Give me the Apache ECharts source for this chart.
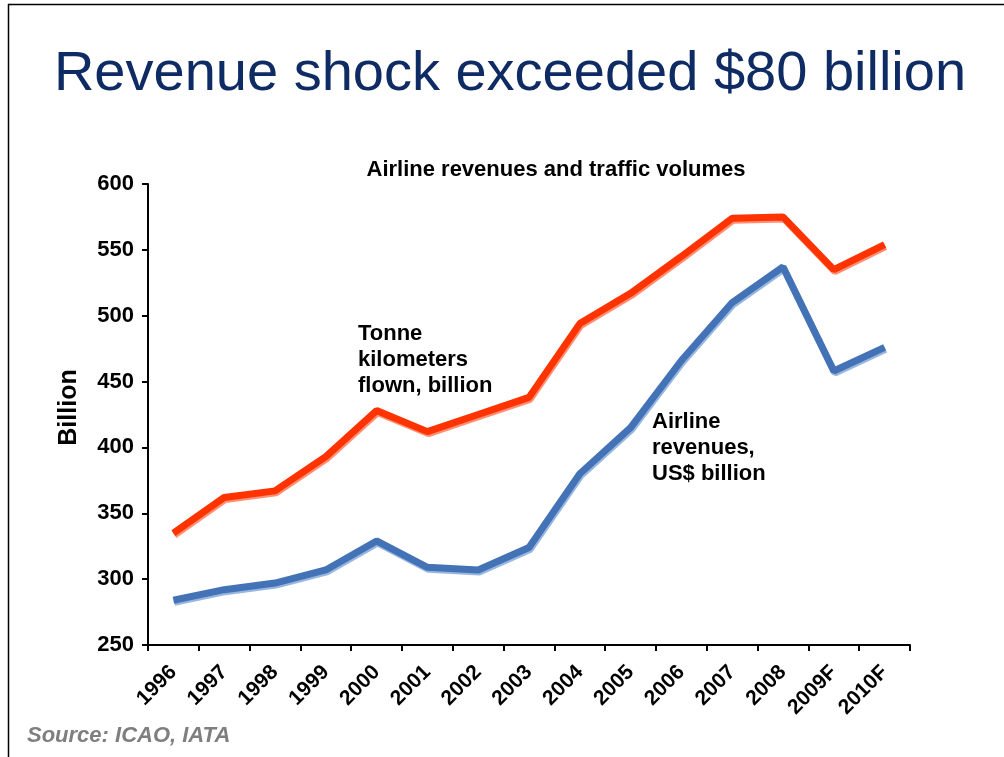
<!DOCTYPE html>
<html>
<head>
<meta charset="utf-8">
<script src="https://cdn.jsdelivr.net/npm/echarts@6/dist/echarts.min.js"></script>
<style>
  html, body { margin: 0; padding: 0; background: #fff; }
  #main { width: 1004px; height: 757px; }
</style>
</head>
<body>
<div id="main"></div>
<script>
  // 数据
  var years = ['1996', '1997', '1998', '1999', '2000', '2001', '2002', '2003', '2004', '2005', '2006', '2007', '2008', '2009F', '2010F'];
  var tonneKm = [335, 362, 367, 393, 428, 412, 425, 438, 494, 517, 545, 574, 575, 535, 554];
  var revenues = [284, 292, 297, 307, 329, 309, 307, 324, 380, 415, 466, 510, 537, 458, 476];
  var yTicks = [250, 300, 350, 400, 450, 500, 550, 600];

  var chart = echarts.init(document.getElementById('main'));
  var font = 'Liberation Sans, Arial, sans-serif';

  chart.setOption({
    animation: false,
    textStyle: {fontFamily: font},
    grid: {left: 148, right: 94, top: 184, bottom: 112},
    title: [
      {
        text: 'Revenue shock exceeded $80 billion',
        left: 505, top: 42, textAlign: 'center',
        textStyle: {color: '#0e2b64', fontSize: 56, fontWeight: 'normal', fontFamily: font}
      },
      {
        text: 'Airline revenues and traffic volumes',
        left: 551, top: 154, textAlign: 'center',
        textStyle: {color: '#000', fontSize: 22, fontWeight: 'bold', fontFamily: font}
      }
    ],
    graphic: [
      {type: 'line', shape: {x1: 8, y1: 4.5, x2: 1004, y2: 4.5}, style: {stroke: '#000', lineWidth: 1.5}},
      {type: 'line', shape: {x1: 8.5, y1: 4, x2: 8.5, y2: 757}, style: {stroke: '#000', lineWidth: 1.5}},
      {
        type: 'text', left: 358, top: 321,
        style: {text: 'Tonne\nkilometers\nflown, billion', fill: '#000', font: 'bold 22px ' + font, lineHeight: 26}
      },
      {
        type: 'text', left: 652, top: 409,
        style: {text: 'Airline\nrevenues,\nUS$ billion', fill: '#000', font: 'bold 22px ' + font, lineHeight: 26}
      },
      {
        type: 'text', left: 27, top: 725,
        style: {text: 'Source: ICAO, IATA', fill: '#7f7f7f', font: 'italic bold 22px ' + font}
      }
    ],
    xAxis: {
      type: 'category',
      data: years,
      boundaryGap: true,
      axisLine: {lineStyle: {color: '#000', width: 2}},
      axisTick: {show: true, inside: false, length: 6, lineStyle: {color: '#000', width: 2}},
      axisLabel: {color: '#000', fontSize: 21, fontWeight: 'bold', rotate: 45, margin: 24, interval: 0, fontFamily: font}
    },
    yAxis: {
      type: 'value',
      min: yTicks[0],
      max: yTicks[yTicks.length - 1],
      interval: 50,
      name: 'Billion',
      nameLocation: 'middle',
      nameGap: 66,
      nameRotate: 90,
      nameTextStyle: {color: '#000', fontSize: 25, fontWeight: 'bold', fontFamily: font, padding: [0, 0, 0, 14]},
      axisLine: {show: true, lineStyle: {color: '#000', width: 2}},
      axisTick: {show: true, length: 6, lineStyle: {color: '#000', width: 2}},
      splitLine: {show: false},
      axisLabel: {color: '#000', fontSize: 22, fontWeight: 'bold', margin: 14, fontFamily: font}
    },
    series: [
      {
        name: 'Tonne kilometers flown, billion',
        type: 'line',
        data: tonneKm,
        symbol: 'none',
        lineStyle: {color: '#ff3300', width: 7, shadowColor: 'rgba(255,130,100,0.9)', shadowOffsetY: 2, shadowOffsetX: 1, shadowBlur: 0}
      },
      {
        name: 'Airline revenues, US$ billion',
        type: 'line',
        data: revenues,
        symbol: 'none',
        lineStyle: {color: '#4373b6', width: 7, shadowColor: 'rgba(140,175,222,0.9)', shadowOffsetY: 2, shadowOffsetX: 1, shadowBlur: 0}
      }
    ]
  });
</script>
</body>
</html>
